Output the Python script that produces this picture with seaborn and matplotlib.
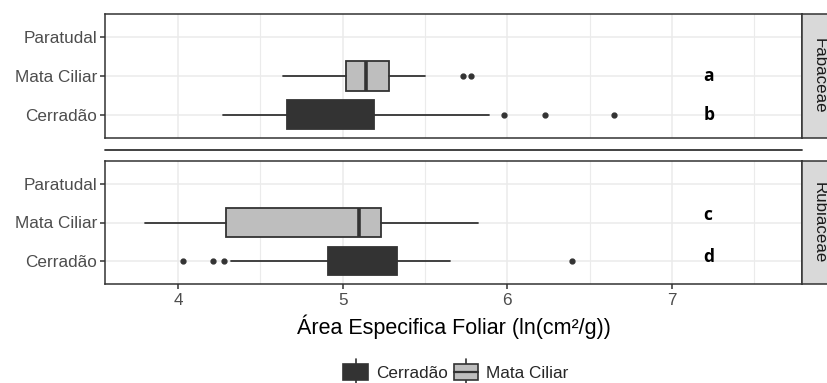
#plot.py

import matplotlib
matplotlib.use("Agg")
import matplotlib.pyplot as plt
import seaborn as sns
from matplotlib.patches import Rectangle
from matplotlib.lines import Line2D
from matplotlib.legend_handler import HandlerBase

#Categorias e grupos
categorias = ["Cerradão", "Mata Ciliar", "Paratudal"]
familias = ["Fabaceae", "Rubiaceae"]
grupos = ["Cerradão", "Mata Ciliar"]
letras = {"Fabaceae": ["b", "a"], "Rubiaceae": ["d", "c"]}

#Resumo dos boxplots (Cerradão, Mata Ciliar)
fab_whislo = [4.27, 4.64]
fab_q1 = [4.66, 5.02]
fab_med = [4.95, 5.14]
fab_q3 = [5.19, 5.28]
fab_whishi = [5.89, 5.50]
fab_fliers = [[5.98, 6.23, 6.65], [5.73, 5.78]]

rub_whislo = [4.32, 3.80]
rub_q1 = [4.91, 4.29]
rub_med = [5.15, 5.10]
rub_q3 = [5.33, 5.23]
rub_whishi = [5.65, 5.82]
rub_fliers = [[4.03, 4.21, 4.28, 6.39], []]

cores = {"Cerradão": "#333333", "Mata Ciliar": "#BEBEBE"}

sns.set_theme(style="whitegrid")
plt.rcParams["font.family"] = ["Liberation Sans", "DejaVu Sans"]


def montar_stats(whislo, q1, med, q3, whishi, fliers):
    stats = []
    for i in range(len(grupos)):
        stats.append({"whislo": whislo[i], "q1": q1[i], "med": med[i],
                      "q3": q3[i], "whishi": whishi[i], "fliers": fliers[i]})
    return stats


dados = {
    "Fabaceae": montar_stats(fab_whislo, fab_q1, fab_med, fab_q3, fab_whishi, fab_fliers),
    "Rubiaceae": montar_stats(rub_whislo, rub_q1, rub_med, rub_q3, rub_whishi, rub_fliers),
}

W, H = 827, 383
fig = plt.figure(figsize=(W / 100, H / 100), dpi=100)
paineis = {"Fabaceae": (14, 138), "Rubiaceae": (161, 284)}
x0, x1 = 105, 802
escuro = "#333333"

eixos = []
for fam in familias:
    topo, base = paineis[fam]
    ax = fig.add_axes([x0 / W, 1 - base / H, (x1 - x0) / W, (base - topo) / H])
    eixos.append(ax)
    ax.set_facecolor("white")

    bp = ax.bxp(dados[fam], positions=[1, 2], widths=0.75, orientation="horizontal",
                patch_artist=True, showcaps=False,
                boxprops=dict(edgecolor=escuro, linewidth=1.3),
                medianprops=dict(color=escuro, linewidth=2.6),
                whiskerprops=dict(color=escuro, linewidth=1.3),
                flierprops=dict(marker="o", markersize=3.5, markerfacecolor=escuro,
                                markeredgecolor=escuro))
    for caixa, g in zip(bp["boxes"], grupos):
        caixa.set_facecolor(cores[g])
    for artista in bp["boxes"] + bp["whiskers"] + bp["medians"] + bp["fliers"]:
        artista.set_zorder(3)

    ax.set_xlim(3.556, 7.79)
    ax.set_ylim(0.4, 3.6)
    ax.set_yticks([1, 2, 3])
    ax.set_yticklabels(categorias)
    ax.set_xticks([4, 5, 6, 7])
    ax.set_xticks([4.5, 5.5, 6.5, 7.5], minor=True)
    ax.grid(True, which="major", color="#EBEBEB", linewidth=1.1)
    ax.grid(True, which="minor", axis="x", color="#EBEBEB", linewidth=0.8)
    ax.set_axisbelow(True)
    for s in ax.spines.values():
        s.set_color(escuro)
        s.set_linewidth(1.1)
    ax.tick_params(axis="y", which="major", left=True, length=3.5, width=1.1,
                   color=escuro, labelsize=12.3, labelcolor="#4D4D4D", pad=2)
    ax.tick_params(axis="x", which="both", bottom=False, length=0)

    #Letras de significância
    ajuste = {"Fabaceae": [0.0, 0.0], "Rubiaceae": [0.1, 0.2]}
    for pos, letra, dy in zip([1, 2], letras[fam], ajuste[fam]):
        ax.text(7.19, pos + dy, letra, fontsize=12.5, fontweight="bold",
                color="black", ha="left", va="center",
                family=["Open Sans", "DejaVu Sans"])

    #Faixa lateral
    fig.add_artist(Rectangle((x1 / W, 1 - base / H), 40 / W, (base - topo) / H,
                             facecolor="#D9D9D9", edgecolor=escuro, linewidth=1.1,
                             transform=fig.transFigure, clip_on=False))
    fig.text(819 / W, 1 - (topo + base) / 2 / H, fam, rotation=270, fontsize=12.2,
             color="#1A1A1A", ha="center", va="center")

ax_top, ax_bot = eixos
ax_top.tick_params(axis="x", labelbottom=False)
ax_bot.tick_params(axis="x", which="major", bottom=True, length=3.5, width=1.1,
                   color=escuro, labelsize=12.3, labelcolor="#4D4D4D", pad=3)
ax_bot.set_xlabel("Área Especifica Foliar (ln(cm²/g))", fontsize=15.5,
                  color="black", labelpad=5)

#Linha entre os painéis
fig.add_artist(Line2D([x0 / W, x1 / W], [1 - 150 / H] * 2, color=escuro,
                      linewidth=1.3, transform=fig.transFigure))


class HandlerCaixa(HandlerBase):
    def __init__(self, mediana):
        super().__init__()
        self.mediana = mediana

    def create_artists(self, legend, orig_handle, xdescent, ydescent, width,
                       height, fontsize, trans):
        cx = -xdescent + width / 2
        y0 = -ydescent
        artistas = [Line2D([cx, cx], [y0 - 3, y0 + height + 3], color=escuro,
                           linewidth=1.2, transform=trans)]
        artistas.append(Rectangle((-xdescent, y0 + 1), width, height - 2,
                                  facecolor=orig_handle.get_facecolor(),
                                  edgecolor=escuro, linewidth=1.2, transform=trans))
        if self.mediana:
            artistas.append(Line2D([-xdescent, -xdescent + width],
                                   [y0 + height / 2] * 2, color=escuro,
                                   linewidth=1.6, transform=trans))
        return artistas


handles = [Rectangle((0, 0), 1, 1, facecolor=cores[g]) for g in grupos]
fig.legend(handles, grupos, loc="center", bbox_to_anchor=(456 / W, 1 - 372 / H),
           ncol=2, frameon=False, fontsize=12.3, handlelength=1.45,
           handleheight=1.3, handletextpad=0.45, columnspacing=0.35,
           handler_map={handles[0]: HandlerCaixa(False), handles[1]: HandlerCaixa(True)})

fig.savefig("out.png", dpi=100)
